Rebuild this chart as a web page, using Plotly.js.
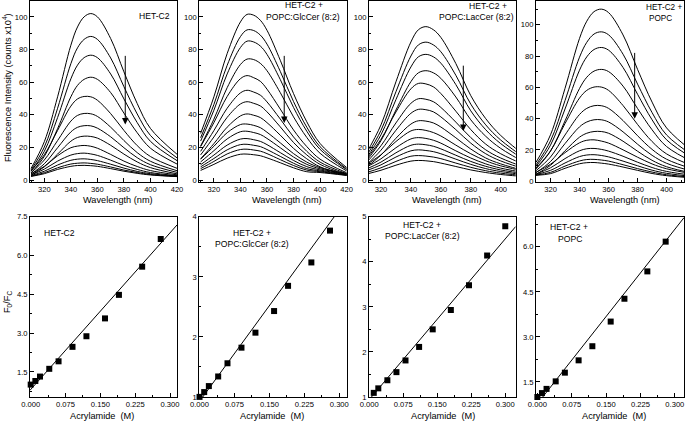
<!DOCTYPE html>
<html>
<head>
<meta charset="utf-8">
<script src="https://cdn.plot.ly/plotly-3.0.1.min.js"></script>
<style>html,body{margin:0;padding:0;background:#fff;}#chart{width:685px;height:422px;}</style>
</head>
<body>
<div id="chart"></div>
<script>
// ---------- DATA ----------
const wavelength = [310, 320, 330, 340, 345, 350, 355, 360, 370, 380, 390, 400, 420];

const specHET = [
  [7.1, 23.5, 51, 82.6, 93.8, 100, 102, 100, 86.7, 66.3, 46.9, 31.6, 15.8],
  [6.2, 20.2, 44, 71.3, 81, 86.2, 88, 86.2, 74.8, 57.2, 40.5, 27.3, 13.6],
  [5.4, 17.6, 38.3, 62, 70.4, 75, 76.5, 75, 65, 49.7, 35.2, 23.7, 11.9],
  [4.4, 14.5, 31.5, 51, 58, 61.7, 63, 61.7, 53.6, 41, 29, 19.5, 9.8],
  [5.7, 15.5, 30.4, 45.3, 49.7, 51.2, 51, 48.9, 40.7, 30.4, 21.1, 14.4, 7.2],
  [4.5, 12.3, 24.2, 36.1, 39.6, 40.8, 40.6, 39, 32.4, 24.2, 16.8, 11.5, 5.7],
  [3.7, 10, 19.8, 29.5, 32.3, 33.3, 33.2, 31.8, 26.5, 19.8, 13.7, 9.4, 4.7],
  [3, 8.1, 15.9, 23.8, 26.1, 26.9, 26.7, 25.7, 21.3, 15.9, 11.1, 7.6, 3.8],
  [3.8, 8.4, 14.9, 19.8, 20.8, 21.2, 20.7, 19.5, 15.7, 11.6, 8.3, 5.8, 3.2],
  [3.1, 6.7, 11.6, 15.3, 16.2, 16.5, 16, 15.1, 12.2, 9, 6.5, 4.6, 2.7],
  [2.7, 5.4, 9.2, 12.1, 12.8, 13, 12.6, 11.9, 9.7, 7.3, 5.3, 3.9, 2.4],
  [2.4, 4.5, 7.5, 9.8, 10.3, 10.5, 10.2, 9.7, 8, 6.1, 4.6, 3.4, 2.2],
  [2.2, 3.9, 6.5, 8.4, 8.9, 9, 8.8, 8.4, 7, 5.4, 4.1, 3.1, 2.1]
];

const specGlc = [
  [28.6, 51, 77.5, 96.9, 101.5, 101, 97.9, 91.8, 73.4, 53, 35.7, 22.4, 7.7],
  [25.9, 46.3, 70.3, 87.9, 92, 91.6, 88.8, 83.3, 66.6, 48.1, 32.4, 20.4, 6.9],
  [23.9, 42.8, 65, 81.2, 85.1, 84.6, 82.1, 77, 61.6, 44.5, 29.9, 18.8, 6.4],
  [20.9, 37.3, 56.6, 70.8, 74.1, 73.8, 71.5, 67, 53.6, 38.7, 26.1, 16.4, 5.6],
  [20.5, 35.2, 51.2, 62.1, 64, 62.7, 60.5, 55.7, 43.5, 30.7, 20.5, 12.8, 4.5],
  [17.6, 30.3, 44, 53.4, 55, 53.9, 52, 47.9, 37.4, 26.4, 17.6, 11, 3.9],
  [15.4, 26.4, 38.4, 46.6, 48, 47, 45.4, 41.8, 32.6, 23, 15.4, 9.6, 3.4],
  [13, 22.3, 32.4, 39.3, 40.5, 39.7, 38.3, 35.2, 27.5, 19.4, 13, 8.1, 3.0],
  [12.8, 20.7, 29, 34, 34.3, 33.5, 32.1, 29.3, 22.8, 16.2, 11, 7.6, 4.0],
  [11.1, 18, 25.2, 29.6, 29.9, 29.1, 27.9, 25.5, 19.8, 14.1, 9.6, 6.9, 3.7],
  [9.4, 15.3, 21.4, 25.1, 25.4, 24.7, 23.7, 21.7, 16.8, 12, 8.2, 6.2, 3.4],
  [8.1, 13.2, 18.5, 21.7, 21.9, 21.3, 20.5, 18.7, 14.5, 10.3, 7, 5.6, 3.2],
  [7, 11.4, 16, 18.7, 18.9, 18.4, 17.7, 16.2, 12.5, 8.9, 6.1, 5.1, 3.0],
  [5.9, 9.6, 13.4, 15.8, 15.9, 15.5, 14.9, 13.6, 10.6, 7.5, 5.1, 4.6, 2.8]
];

const specLac = [
  [16, 33.8, 60.2, 84.6, 92.1, 94, 92.1, 87.4, 71.4, 51.7, 37.6, 27.3, 12.2],
  [14.4, 30.4, 54.1, 76, 82.8, 84.5, 82.8, 78.6, 64.2, 46.5, 33.8, 24.5, 11],
  [13.1, 27.7, 49.3, 69.3, 75.5, 77, 75.5, 71.6, 58.5, 42.4, 30.8, 22.3, 10],
  [11.4, 24.1, 42.9, 60.3, 65.7, 67, 65.7, 62.3, 50.9, 36.9, 26.8, 19.4, 8.7],
  [12.5, 25, 41.7, 55.9, 59.2, 58.9, 57.1, 53, 42.2, 30.9, 22, 16.1, 7.7],
  [10.5, 21, 35, 47, 49.8, 49.5, 48, 44.5, 35.5, 26, 18.5, 13.5, 6.5],
  [9.1, 18.3, 30.5, 40.9, 43.3, 43.1, 41.8, 38.7, 30.9, 22.6, 16.1, 11.7, 5.7],
  [7.7, 15.3, 25.6, 34.3, 36.3, 36.1, 35, 32.5, 25.9, 19, 13.5, 9.9, 4.7],
  [9.3, 15.5, 23.6, 30.1, 31, 30.4, 29.1, 27, 21.4, 16.1, 11.8, 8.7, 4.7],
  [7.8, 13, 19.8, 25.2, 26, 25.5, 24.4, 22.6, 17.9, 13.5, 9.9, 7.3, 3.9],
  [6.6, 11, 16.7, 21.3, 22, 21.6, 20.7, 19.1, 15.2, 11.4, 8.4, 6.2, 3.3],
  [5.6, 9.3, 14.1, 17.9, 18.5, 18.1, 17.4, 16.1, 12.8, 9.6, 7, 5.2, 2.8],
  [4.5, 7.5, 11.4, 14.6, 15, 14.7, 14.1, 13.1, 10.4, 7.8, 5.7, 4.2, 2.3],
  [3.6, 6, 9.1, 11.6, 12, 11.8, 11.3, 10.4, 8.3, 6.2, 4.6, 3.4, 1.8]
];

const specPOPC = [
  [12.1, 29.7, 59.4, 91.3, 102.3, 108.4, 110, 107.8, 93.5, 71.5, 50.6, 34.1, 17.6],
  [10.5, 25.8, 51.6, 79.3, 88.8, 94.1, 95.5, 93.6, 81.2, 62.1, 43.9, 29.6, 15.3],
  [9.4, 23.1, 46.2, 71, 79.5, 84.2, 85.5, 83.8, 72.7, 55.6, 39.3, 26.5, 13.7],
  [7.9, 19.3, 38.6, 59.3, 66.5, 70.4, 71.5, 70.1, 60.8, 46.5, 32.9, 22.2, 11.4],
  [8.5, 19.4, 36.9, 53.2, 58.1, 60.2, 60.2, 58.1, 48.4, 36.3, 25.4, 17.5, 9.1],
  [6.8, 15.5, 29.6, 42.7, 46.6, 48.3, 48.3, 46.6, 38.8, 29.1, 20.4, 14.1, 7.3],
  [5.5, 12.6, 24.1, 34.8, 37.9, 39.3, 39.3, 37.9, 31.6, 23.7, 16.6, 11.5, 5.9],
  [4.5, 10.2, 19.5, 28.2, 30.7, 31.8, 31.8, 30.7, 25.6, 19.2, 13.4, 9.3, 4.8],
  [5.8, 10.9, 18.3, 24.6, 26.2, 26.5, 25.7, 24.4, 20.1, 15.4, 11.1, 8, 4.5],
  [4.6, 8.6, 14.5, 19.5, 20.8, 21, 20.4, 19.3, 16, 12.2, 8.8, 6.3, 3.6],
  [4.3, 7, 11.7, 15.8, 16.8, 17, 16.5, 15.6, 12.9, 9.9, 7.1, 5.1, 2.9],
  [4.0, 5.7, 9.7, 13, 13.9, 14, 13.6, 12.9, 10.6, 8.1, 5.9, 4.2, 2.4],
  [3.8, 4.9, 8.3, 11.2, 11.9, 12, 11.6, 11, 9.1, 7, 5, 3.6, 2]
];

// Stern-Volmer data (acrylamide, M) and F0/F
const concHET  = [0, 0.01, 0.02, 0.04, 0.06, 0.09, 0.12, 0.16, 0.19, 0.24, 0.28];
const ratioHET = [1.01, 1.15, 1.32, 1.62, 1.91, 2.47, 2.88, 3.57, 4.48, 5.57, 6.64];
const concGlc  = [0, 0.01, 0.02, 0.04, 0.06, 0.09, 0.12, 0.16, 0.19, 0.24, 0.28];
const ratioGlc = [1.0, 1.08, 1.18, 1.34, 1.56, 1.82, 2.07, 2.43, 2.85, 3.24, 3.77];
const concLac  = [0.01, 0.02, 0.04, 0.06, 0.08, 0.11, 0.14, 0.18, 0.22, 0.26, 0.30];
const ratioLac = [1.09, 1.19, 1.37, 1.55, 1.81, 2.11, 2.50, 2.93, 3.48, 4.14, 4.79];
const concPOPC  = [0, 0.01, 0.02, 0.04, 0.06, 0.09, 0.12, 0.16, 0.19, 0.24, 0.28];
const ratioPOPC = [1.0, 1.13, 1.27, 1.52, 1.81, 2.22, 2.69, 3.51, 4.27, 5.18, 6.17];

// Linear fit parameters
const fitIntercept = [0.82, 0.925, 0.94, 0.776];
const fitSlope     = [20.2, 10.64, 11.9, 19.35];

// Labels
const panelLabels = ['HET-C2', 'POPC:GlcCer (8:2)', 'POPC:LacCer (8:2)', 'POPC'];

// Arrow markers in spectra panels (wavelength, top, bottom)
const arrowX      = [381, 373, 375, 378];
const arrowTop    = [77, 77, 71, 83];
const arrowBottom = [34, 35, 30, 40];

// ---------- LAYOUT ----------
const W = 685, H = 422;
const FONT = 'Liberation Sans, Arial, Helvetica, sans-serif';
const px = v => v / W;
const py = v => 1 - v / H;

const topDom = [py(182), 0.998];
const botDom = [py(397), py(216.7)];
const xDoms = [[px(30), px(177)], [px(199.3), px(347)], [px(369), px(515.7)], [px(536), px(684)]];

const specRanges = [[309.2, 420], [309, 420.3], [312, 410], [310, 412]];
const specYRanges = [[-1.2, 109.8], [-1.2, 109.8], [-1.2, 109.8], [-0.45, 115.3]];
const svXRanges = [[-0.0015, 0.315], [-0.0005, 0.3165], [-0.0005, 0.323], [-0.003, 0.320]];
const svYRanges = [[0.53, 7.503], [0.998, 4.002], [0.998, 5.002], [1.0, 7.0]];
const svYTicks = [[0, 1.5, 0.75, '.1f'], [0, 1, 0.5, ''], [0, 1, 0.5, ''], [0, 1.5, 0.75, '.1f']];

function axis(domain, range, tick0, dtick, mdtick, fmt, anchor) {
  return {
    domain: domain, range: range, anchor: anchor,
    showline: true, linecolor: '#000', linewidth: 1, mirror: true,
    ticks: 'inside', ticklen: 4, tickwidth: 1, tickcolor: '#000',
    tickmode: 'linear', tick0: tick0, dtick: dtick, tickformat: fmt,
    ticklabeloverflow: 'allow',
    minor: {ticks: 'inside', ticklen: 2, tickwidth: 1, tickcolor: '#000', tick0: tick0, dtick: mdtick, showgrid: false},
    showgrid: false, zeroline: false,
    tickfont: {family: FONT, size: 7.6, color: '#000'},
    fixedrange: true
  };
}

const specSets = [specHET, specGlc, specLac, specPOPC];
const svConc = [concHET, concGlc, concLac, concPOPC];
const svRatio = [ratioHET, ratioGlc, ratioLac, ratioPOPC];

const traces = [];
const layout = {
  width: W, height: H, autosize: false,
  margin: {l: 0, r: 0, t: 0, b: 0},
  paper_bgcolor: '#fff', plot_bgcolor: '#fff',
  showlegend: false,
  font: {family: FONT, color: '#000'},
  annotations: []
};

for (let i = 0; i < 4; i++) {
  const n = i + 1;
  const m = i + 5;
  const xs = n === 1 ? 'x' : 'x' + n, ys = n === 1 ? 'y' : 'y' + n;
  const xb = 'x' + m, yb = 'y' + m;

  layout['xaxis' + (n === 1 ? '' : n)] = axis(xDoms[i], specRanges[i], 320, 20, 10, '', ys);
  layout['yaxis' + (n === 1 ? '' : n)] = axis(topDom, specYRanges[i], 0, 20, 10, '', xs);
  layout['xaxis' + m] = axis(xDoms[i], svXRanges[i], 0, 0.075, 0.0375, '.3f', yb);
  layout['yaxis' + m] = axis(botDom, svYRanges[i], svYTicks[i][0], svYTicks[i][1], svYTicks[i][2], svYTicks[i][3], xb);

  specSets[i].forEach(curve => {
    traces.push({
      x: wavelength, y: curve, xaxis: xs, yaxis: ys,
      type: 'scatter', mode: 'lines',
      line: {color: '#000', width: 1, shape: 'spline', smoothing: 1},
      hoverinfo: 'skip'
    });
  });

  const xr = svXRanges[i];
  traces.push({
    x: [xr[0], xr[1]],
    y: [fitIntercept[i] + fitSlope[i] * xr[0], fitIntercept[i] + fitSlope[i] * xr[1]],
    xaxis: xb, yaxis: yb, type: 'scatter', mode: 'lines',
    line: {color: '#000', width: 1}, hoverinfo: 'skip'
  });
  traces.push({
    x: svConc[i], y: svRatio[i], xaxis: xb, yaxis: yb,
    type: 'scatter', mode: 'markers', cliponaxis: false,
    marker: {symbol: 'square', size: 6, color: '#000'}, hoverinfo: 'skip'
  });

  layout.annotations.push({
    xref: xs, yref: ys, axref: xs, ayref: ys,
    x: arrowX[i], y: arrowBottom[i], ax: arrowX[i], ay: arrowTop[i],
    text: '', showarrow: true, arrowhead: 2, arrowsize: 1.3, arrowwidth: 1, arrowcolor: '#000'
  });
}

function note(text, x, y, anchor, size) {
  layout.annotations.push({
    xref: 'paper', yref: 'paper', x: px(x), y: py(y), text: text,
    xanchor: anchor || 'center', yanchor: 'middle', showarrow: false,
    font: {family: FONT, size: size || 8.6, color: '#000'}
  });
}

// Panel labels, top row
note(panelLabels[0], 154, 16);
note('HET-C2 +', 304, 5.5);
note(panelLabels[1], 303, 17);
note('HET-C2 +', 488, 6);
note(panelLabels[2], 476, 17);
note('HET-C2 +', 683.5, 7, 'right', 8.2);
note(panelLabels[3], 647, 18.5, 'left', 8.2);
// Panel labels, bottom row
note(panelLabels[0], 42, 233, 'left');
note('HET-C2 +', 251.5, 233);
note(panelLabels[1], 251.5, 244);
note('HET-C2 +', 421.5, 225);
note(panelLabels[2], 422.5, 236);
note('HET-C2 +', 568.5, 227);
note(panelLabels[3], 569.5, 238.5);

// Axis titles
[118, 287, 447, 625].forEach(x => note('Wavelength (nm)', x, 200, 'center', 9.2));
[102, 272, 443, 614].forEach(x => note('Acrylamide\u00a0 (M)', x, 416, 'center', 9.2));
layout.annotations.push({
  xref: 'paper', yref: 'paper', x: px(7), y: py(88), textangle: -90,
  text: 'Fluorescence Intensity (counts x10<sup>4</sup>)', showarrow: false,
  xanchor: 'center', yanchor: 'middle', font: {family: FONT, size: 9.2, color: '#000'}
});
layout.annotations.push({
  xref: 'paper', yref: 'paper', x: px(7), y: py(302), textangle: -90,
  text: 'F<sub>0</sub>/F<sub>C</sub>', showarrow: false,
  xanchor: 'center', yanchor: 'middle', font: {family: FONT, size: 9.2, color: '#000'}
});

Plotly.newPlot('chart', traces, layout, {staticPlot: true, displayModeBar: false});
</script>
</body>
</html>
